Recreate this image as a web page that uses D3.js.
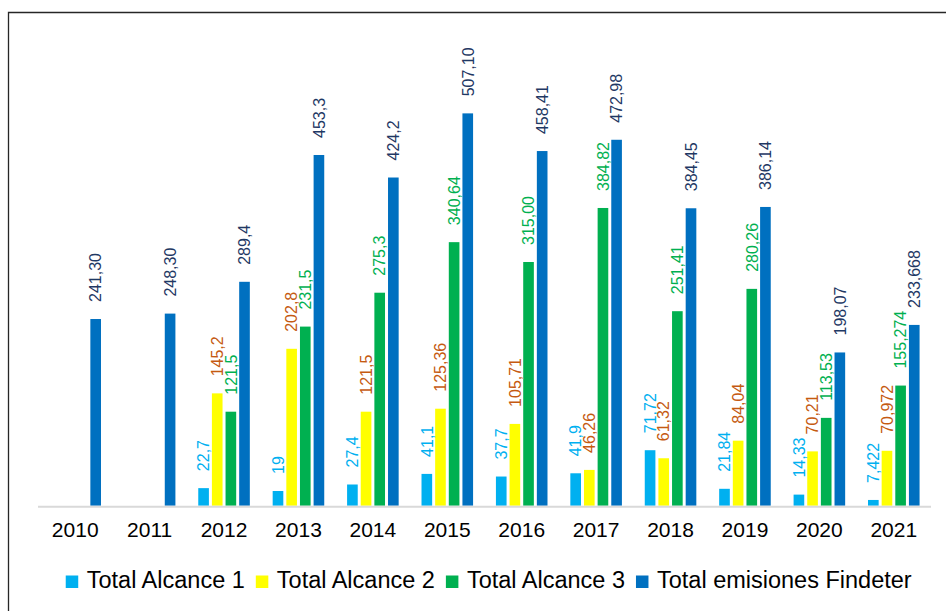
<!DOCTYPE html>
<html>
<head>
<meta charset="utf-8">
<script src="https://cdn.jsdelivr.net/npm/d3@7"></script>
<style>
  body { margin: 0; background: #fff; }
  svg { display: block; font-family: "Liberation Sans", Arial, sans-serif; }
</style>
</head>
<body>
<svg id="chart"></svg>
<script>
// years on the x axis
const years = ['2010', '2011', '2012', '2013', '2014', '2015', '2016', '2017', '2018', '2019', '2020', '2021'];

// series names (legend order)
const seriesNames = ['Total Alcance 1', 'Total Alcance 2', 'Total Alcance 3', 'Total emisiones Findeter'];

// values per series (null = no bar)
const alcance1 = [null, null, 22.7, 19, 27.4, 41.1, 37.7, 41.9, 71.72, 21.84, 14.33, 7.422];
const alcance2 = [null, null, 145.2, 202.8, 121.5, 125.36, 105.71, 46.26, 61.32, 84.04, 70.21, 70.972];
const alcance3 = [null, null, 121.5, 231.5, 275.3, 340.64, 315.00, 384.82, 251.41, 280.26, 113.53, 155.274];
const totalFindeter = [241.30, 248.30, 289.4, 453.3, 424.2, 507.10, 458.41, 472.98, 384.45, 386.14, 198.07, 233.668];

// labels as printed on the chart
const alcance1Labels = ['', '', '22,7', '19', '27,4', '41,1', '37,7', '41,9', '71,72', '21,84', '14,33', '7,422'];
const alcance2Labels = ['', '', '145,2', '202,8', '121,5', '125,36', '105,71', '46,26', '61,32', '84,04', '70,21', '70,972'];
const alcance3Labels = ['', '', '121,5', '231,5', '275,3', '340,64', '315,00', '384,82', '251,41', '280,26', '113,53', '155,274'];
const totalLabels = ['241,30', '248,30', '289,4', '453,3', '424,2', '507,10', '458,41', '472,98', '384,45', '386,14', '198,07', '233,668'];

const barColors = ['#00B0F0', '#FFFF00', '#00B050', '#0070C0'];
const labelColors = ['#00B0F0', '#C55A11', '#00B050', '#1F3864'];

const width = 946, height = 611;
const plot = {left: 38, right: 931, top: 41.5, bottom: 505.7};

const seriesValues = [alcance1, alcance2, alcance3, totalFindeter];
const seriesLabels = [alcance1Labels, alcance2Labels, alcance3Labels, totalLabels];

const data = years.map((yr, i) => ({
    year: yr,
    bars: seriesNames.map((s, k) => ({
        series: s, k: k, value: seriesValues[k][i], label: seriesLabels[k][i]
    }))
}));

const svg = d3.select('#chart')
    .attr('width', width)
    .attr('height', height);

// outer frame (only top and left edges are visible in the picture)
svg.append('path')
    .attr('d', `M8.5,${height + 5} L8.5,12.5 L${width + 5},12.5`)
    .attr('fill', 'none')
    .attr('stroke', '#262626')
    .attr('stroke-width', 1.3);

// scales
const x0 = d3.scaleBand()
    .domain(years)
    .range([plot.left, plot.right])
    .paddingInner(0.307)
    .paddingOuter(0.1535);

const x1 = d3.scaleBand()
    .domain(seriesNames)
    .range([0, x0.bandwidth()])
    .paddingInner(0.22);

const y = d3.scaleLinear()
    .domain([0, 600])
    .range([plot.bottom, plot.top]);

// groups of bars
const groups = svg.append('g')
    .selectAll('g')
    .data(data)
    .join('g')
    .attr('transform', d => `translate(${x0(d.year)},0)`);

groups.selectAll('rect')
    .data(d => d.bars.filter(b => b.value != null))
    .join('rect')
    .attr('x', b => x1(b.series))
    .attr('y', b => y(b.value))
    .attr('width', x1.bandwidth())
    .attr('height', b => y(0) - y(b.value))
    .attr('fill', b => barColors[b.k]);

// rotated value labels above each bar
groups.selectAll('text')
    .data(d => d.bars.filter(b => b.value != null))
    .join('text')
    .attr('transform', b => `translate(${x1(b.series) + x1.bandwidth() / 2},${y(b.value) - 17}) rotate(-90)`)
    .attr('dy', '0.36em')
    .attr('font-size', '16px')
    .attr('fill', b => labelColors[b.k])
    .text(b => b.label);

// baseline
svg.append('line')
    .attr('x1', plot.left)
    .attr('x2', plot.right)
    .attr('y1', y(0) + 1)
    .attr('y2', y(0) + 1)
    .attr('stroke', '#D9D9D9')
    .attr('stroke-width', 2);

// x axis labels
const xAxis = svg.append('g')
    .attr('transform', `translate(0,${plot.bottom})`)
    .call(d3.axisBottom(x0).tickSize(0).tickPadding(16));
xAxis.select('.domain').remove();
xAxis.selectAll('text')
    .attr('font-size', '21px')
    .attr('font-family', '"Liberation Sans", Arial, sans-serif')
    .attr('fill', '#000');

// legend, centred under the plot
const legend = svg.append('g');
const items = legend.selectAll('g')
    .data(seriesNames)
    .join('g');

items.append('rect')
    .attr('x', 0)
    .attr('y', -12.5)
    .attr('width', 12.5)
    .attr('height', 12.5)
    .attr('fill', (d, i) => barColors[i]);

items.append('text')
    .attr('x', 21)
    .attr('y', 0)
    .attr('font-size', '23.5px')
    .attr('fill', '#000')
    .text(d => d);

let cursor = 0;
items.each(function () {
    const w = d3.select(this).select('text').node().getComputedTextLength();
    d3.select(this).attr('transform', `translate(${cursor},0)`);
    cursor += 21 + w + 11;
});
const legendWidth = cursor - 11;
legend.attr('transform', `translate(${488.7 - legendWidth / 2},588)`);
</script>
</body>
</html>
